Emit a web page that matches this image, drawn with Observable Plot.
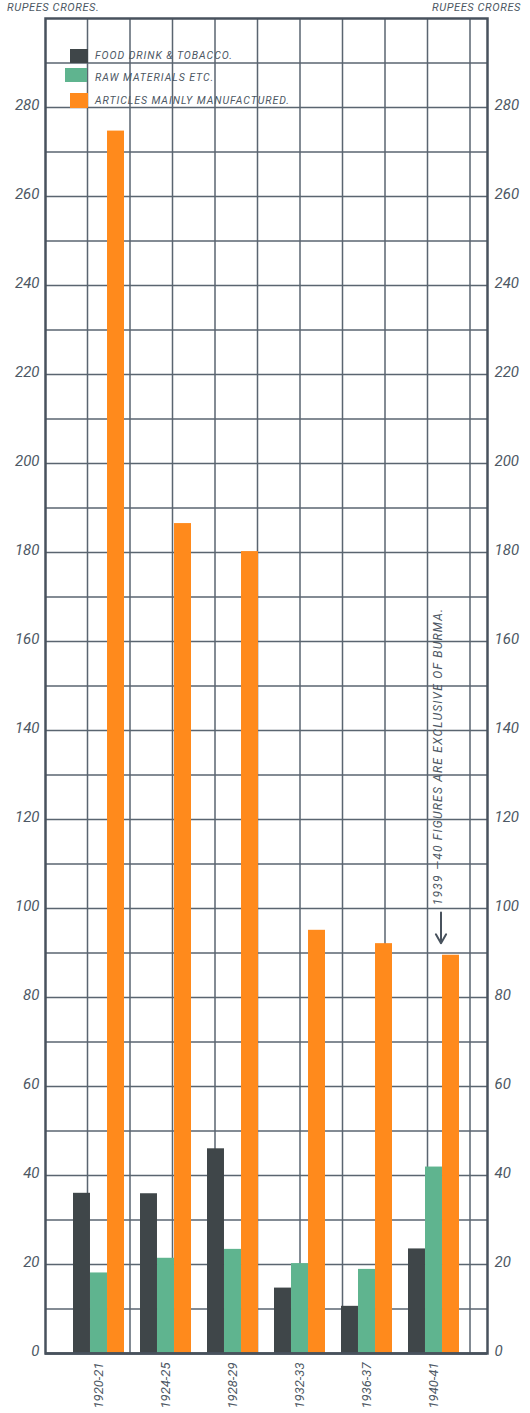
<!DOCTYPE html>
<html><head><meta charset="utf-8">
<script src="https://cdn.jsdelivr.net/npm/d3@7"></script>
<script src="https://cdn.jsdelivr.net/npm/@observablehq/plot@0.6"></script>
<style>
html,body{margin:0;padding:0;background:#fff;}
#wrap{position:relative;width:530px;height:1413px;overflow:hidden;font-family:Roboto,"DejaVu Sans",sans-serif;font-style:italic;color:#4d5864;}
#wrap svg{position:absolute;left:0;top:0;}
#wrap svg text{font-style:italic;}
#wrap svg g[aria-label="text"] text{letter-spacing:1.2px;}
.hdr{position:absolute;top:1px;font-size:11px;letter-spacing:0.6px;white-space:nowrap;}
.item{position:absolute;font-size:10.5px;white-space:nowrap;letter-spacing:0.95px;}
.sw{position:absolute;}
</style></head><body><div id="wrap"></div>
<script>
const periods = ["1920-21","1924-25","1928-29","1932-33","1936-37","1940-41"];
const series = ["FOOD DRINK & TOBACCO.","RAW MATERIALS ETC.","ARTICLES MAINLY MANUFACTURED."];
const colors = ["#3f4649","#5fb48f","#ff8a1c"];
const food = [36.0, 35.9, 46.0, 14.7, 10.6, 23.5];
const raw = [18.1, 21.4, 23.4, 20.2, 18.9, 41.9];
const manufactured = [274.7, 186.5, 180.2, 95.1, 92.1, 89.5];
const yTicks = [0,20,40,60,80,100,120,140,160,180,200,220,240,260,280];
const unitLeft = "RUPEES CRORES.";
const unitRight = "RUPEES CRORES";
const note = "1939 —40 FIGURES ARE EXCLUSIVE OF BURMA.";
const notePeriod = "1940-41";

const W = 530, H = 1413;
const margin = {top: 18, right: 43, bottom: 60, left: 45};
const padInner = 0.244, padOuter = 0.396;
const plotW = W - margin.left - margin.right;
const step = plotW / (periods.length - padInner + 2 * padOuter);
const third = step * (1 - padInner) / 3;
const gridColor = "#5a6570";
const frameColor = "#48525d";
const textColor = "#4d5864";

const table = periods.flatMap((p, i) => [
  {period: p, k: 0, value: food[i]},
  {period: p, k: 1, value: raw[i]},
  {period: p, k: 2, value: manufactured[i]}
]);

const gridV = (index, scales, values, dims) => {
  const g = d3.create("svg:g");
  const sx = d3.scaleLinear().domain([0, 10.4]).range([dims.marginLeft, dims.width - dims.marginRight]);
  for (let i = 1; i <= 10; i++) {
    g.append("line").attr("x1", sx(i)).attr("x2", sx(i))
      .attr("y1", dims.marginTop).attr("y2", dims.height - dims.marginBottom)
      .attr("stroke", gridColor).attr("stroke-width", 1.5);
  }
  return g.node();
};

const noteTop = manufactured[periods.indexOf(notePeriod)];

const chart = Plot.plot({
  width: W, height: H,
  marginTop: margin.top, marginRight: margin.right, marginBottom: margin.bottom, marginLeft: margin.left,
  style: {color: textColor, fontFamily: "Roboto, 'DejaVu Sans', sans-serif", background: "transparent"},
  x: {domain: periods, paddingInner: padInner, paddingOuter: padOuter},
  y: {domain: [0, 300]},
  marks: [
    gridV,
    Plot.gridY(d3.range(10, 300, 10), {stroke: gridColor, strokeOpacity: 1, strokeWidth: 1.5}),
    ...[0, 1, 2].map(k => Plot.barY(table.filter(d => d.k === k), {
      x: "period", y: "value", fill: colors[k],
      insetLeft: k * third, insetRight: (2 - k) * third
    })),
    Plot.frame({stroke: frameColor, strokeWidth: 2.5}),
    Plot.ruleY([0], {stroke: frameColor, strokeWidth: 2.5}),
    Plot.axisY(yTicks, {anchor: "left", tickSize: 0, tickPadding: 6, fontSize: 15, fontStyle: "italic", label: null, dy: -2}),
    Plot.axisY(yTicks, {anchor: "right", tickSize: 0, tickPadding: 7, fontSize: 15, fontStyle: "italic", label: null, dy: -2}),
    Plot.axisX({anchor: "bottom", tickSize: 0, tickPadding: 9, tickRotate: -90, fontSize: 13, fontStyle: "italic", label: null}),
    Plot.arrow([notePeriod], {x1: d => d, x2: d => d, y1: noteTop + 9.6, y2: noteTop + 2.7,
      stroke: frameColor, strokeWidth: 2, headLength: 9, dx: 7}),
    Plot.text([note], {x: () => notePeriod, y: () => noteTop, text: d => d, rotate: -90,
      textAnchor: "start", dx: 4, dy: -50, fontSize: 12, fontStyle: "italic", fill: textColor})
  ]
});

const wrap = document.getElementById("wrap");
wrap.appendChild(chart);

const hl = document.createElement("div");
hl.className = "hdr"; hl.style.left = "7px"; hl.textContent = unitLeft; wrap.appendChild(hl);
const hr = document.createElement("div");
hr.className = "hdr"; hr.style.right = "9px"; hr.textContent = unitRight; wrap.appendChild(hr);

const legendPos = [
  {sx: 70, sy: 49, sw: 18, sh: 14, ty: 49},
  {sx: 65, sy: 68, sw: 22, sh: 14, ty: 71},
  {sx: 70, sy: 93, sw: 18, sh: 15, ty: 94}
];
series.forEach((s, k) => {
  const p = legendPos[k];
  const sw = document.createElement("div");
  sw.className = "sw";
  Object.assign(sw.style, {left: p.sx + "px", top: p.sy + "px", width: p.sw + "px", height: p.sh + "px", background: colors[k]});
  wrap.appendChild(sw);
  const t = document.createElement("div");
  t.className = "item";
  t.style.left = "95px"; t.style.top = p.ty + "px";
  t.textContent = s;
  wrap.appendChild(t);
});
</script></body></html>
